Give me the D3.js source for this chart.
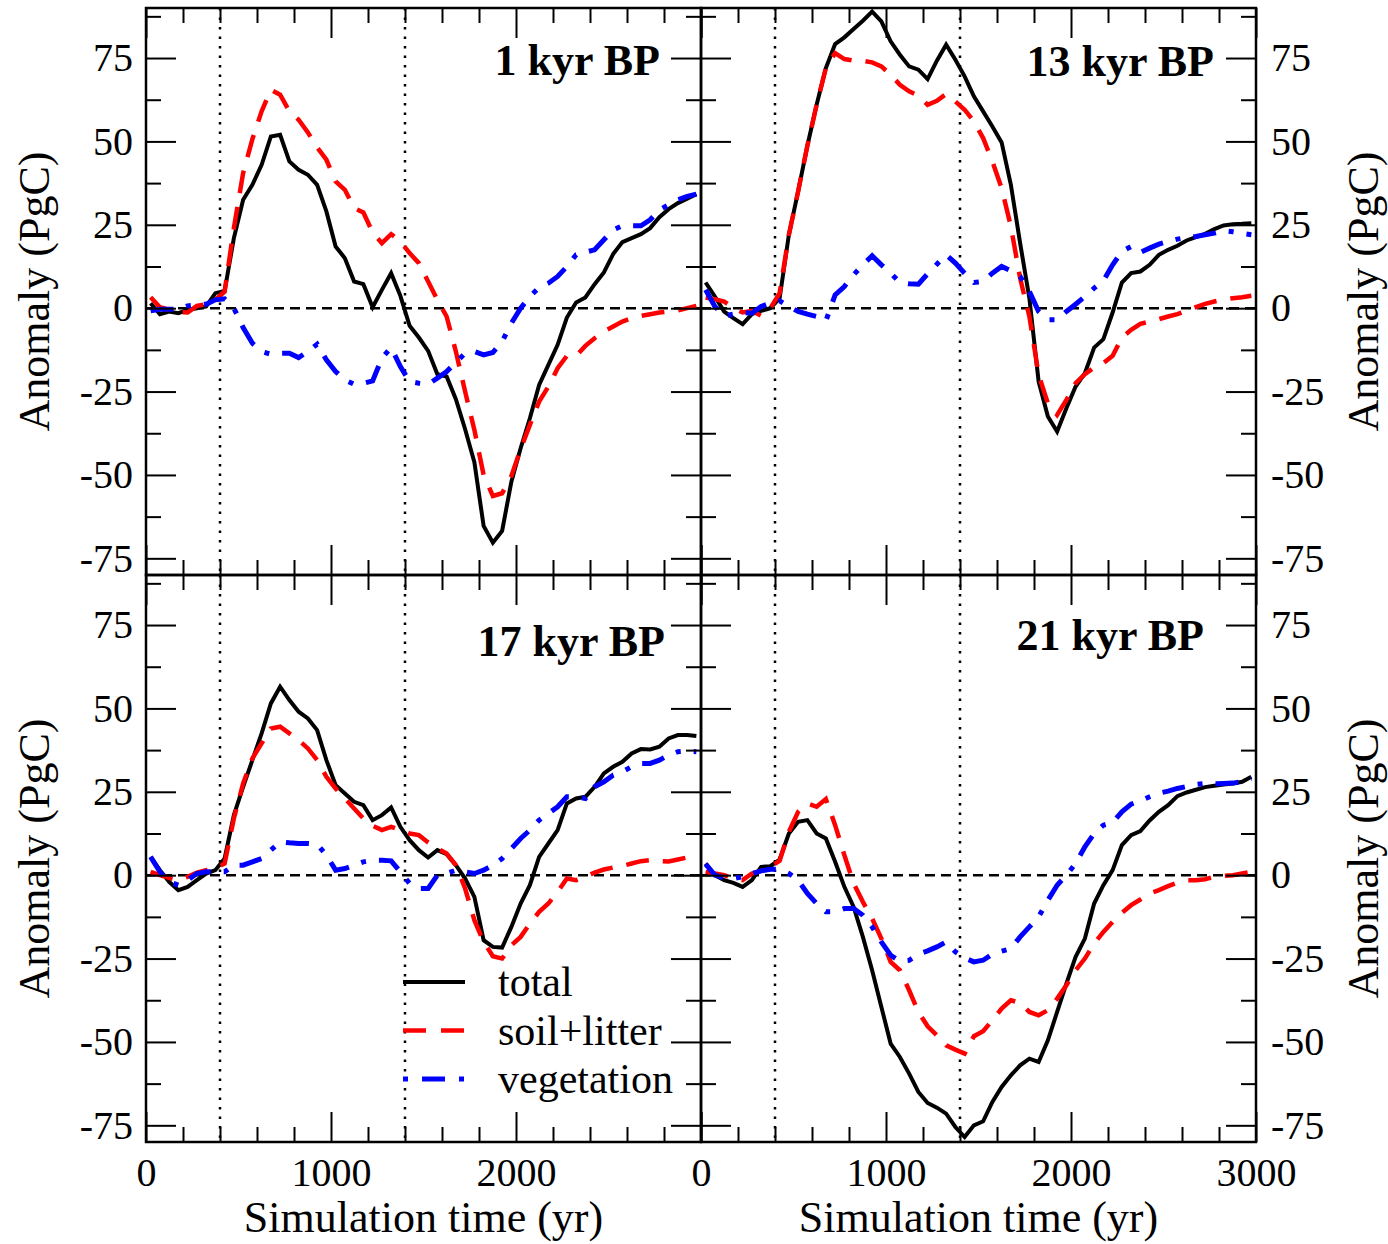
<!DOCTYPE html>
<html>
<head>
<meta charset="utf-8">
<script src="https://cdn.jsdelivr.net/npm/d3@7"></script>
<style>
  body { margin: 0; background: #fff; }
  svg { display: block; }
</style>
</head>
<body>
<svg id="chart" width="1388" height="1244"></svg>
<script>
// sample times (yr), one value every 50 yr
const years = [25, 75, 125, 175, 225, 275, 325, 375, 425, 475,
  525, 575, 625, 675, 725, 775, 825, 875, 925, 975,
  1025, 1075, 1125, 1175, 1225, 1275, 1325, 1375, 1425, 1475,
  1525, 1575, 1625, 1675, 1725, 1775, 1825, 1875, 1925, 1975,
  2025, 2075, 2125, 2175, 2225, 2275, 2325, 2375, 2425, 2475,
  2525, 2575, 2625, 2675, 2725, 2775, 2825, 2875, 2925, 2975]

// 1 kyr BP
const tot01 = [1.5, -1.8, -1, -1.5, -0.5, 0, 0.5, 4.5, 5.2, 21,
  32.5, 37, 43, 51.5, 52, 44, 41.5, 40, 37, 29,
  18.5, 15, 8, 7.2, 0.3, 5.5, 10.5, 3.7, -5.3, -8.8,
  -12.8, -19.8, -20.5, -27.3, -36.3, -46.2, -65.3, -70.3, -66.8, -52,
  -42, -33, -23, -17, -11, -2.8, 1.7, 3.2, 7.2, 10.7,
  16.2, 19.8, 21, 22.2, 24, 27.3, 29.7, 31.5, 32.8, 34.2]
const soil01 = [3.3, 0.3, -0.5, -1.2, -1.3, 0.7, 1.2, 2.5, 5, 24,
  40.5, 50.7, 59, 65.5, 64, 59, 56.5, 52.7, 48.2, 44.5,
  38, 35.5, 30, 28.7, 22.7, 19.5, 22.2, 20, 16.5, 13.5,
  8, 2.5, -2.5, -13, -25, -36.5, -50, -56.3, -55.5, -50.3,
  -42.3, -35, -28, -23.5, -18, -14.3, -14.3, -11.3, -9, -7,
  -5.5, -4, -3, -2.3, -1.8, -1.3, -1, -0.7, 0, 0.7]
const veg01 = [-0.8, -0.3, -0.3, -0.3, 0.7, 1, 1.2, 2.5, 2.8, 0,
  -5.8, -10.5, -13, -13.8, -13.5, -13.5, -14.8, -13, -10.8, -15.5,
  -19, -21.5, -22.8, -22.5, -21.8, -15, -11.8, -17.5, -22, -22.5,
  -22.8, -21, -19, -16.3, -13.5, -13, -14, -13.3, -10, -4.5,
  0, 3.5, 6.2, 7.5, 9.5, 12.5, 16, 16.8, 17.5, 20.5,
  23.5, 24.7, 24.7, 24.7, 26.5, 29.5, 31, 32.5, 33.5, 34.2]

// 13 kyr BP
const tot13 = [7.7, 3.5, -1, -3, -4.8, -1.8, -0.8, 0, 3, 22,
  35, 48.7, 61, 72, 79.2, 81.2, 83.7, 86.2, 88.9, 86,
  80, 76, 72.5, 71.5, 68.7, 74.2, 79, 74.5, 69.5, 63.5,
  59, 54.5, 49.7, 37, 19.5, 3, -22, -32.5, -37, -30,
  -23.5, -19.5, -11.8, -9.3, -1.3, 7.7, 10.5, 11, 13, 16,
  17.5, 18.7, 20.3, 21.3, 22.3, 23.7, 24.8, 25.2, 25.3, 25.5]
const soil13 = [3.2, 2.7, 2, 0, -1.3, -0.8, -2.3, 0, 4.5, 22,
  35, 48.7, 61, 72, 76.5, 74.7, 74.2, 74.2, 73.7, 72.5,
  70, 67, 65, 63.7, 61, 62.2, 64.2, 62, 59.5, 56,
  51, 44, 36, 24.5, 9, -2.5, -20, -28.5, -32, -27.5,
  -22.5, -19.8, -17.8, -16.5, -14.3, -8.8, -6.5, -4.7, -4, -3.3,
  -2.5, -1.8, -0.8, 0.3, 1.3, 2, 2.6, 3, 3.3, 3.7]
const veg13 = [5.5, 0.5, -2.3, -1.8, -1.3, -1.5, 0.5, 1.5, 2.2, 0.5,
  -1, -1.8, -2.5, -3.8, 4, 6.5, 10, 13, 15.7, 13,
  10.5, 7.7, 7.3, 7.2, 10.3, 13.2, 16, 13.5, 10.5, 7.7,
  8, 10.5, 12.5, 11.2, 9.5, 5, -1, -3.5, -3.5, -1,
  1.2, 3.5, 6, 8.2, 13, 17, 18.5, 16.7, 18, 19.2,
  20, 20.7, 21.2, 21.5, 22, 22.5, 23.2, 22.9, 22.4, 22]

// 17 kyr BP
const tot17 = [5.5, 1.5, -2, -4.5, -3.5, -1.5, 0.5, 1.5, 5, 18,
  26.5, 34.5, 42.5, 51.5, 56.5, 52.5, 49, 47, 43.5, 34.5,
  27, 24.5, 22, 21, 16.5, 18, 20.3, 14.5, 10.5, 7.5,
  5.3, 7.5, 6.3, 3, -1, -6.5, -19.5, -21.5, -21.7, -15.5,
  -8.5, -3, 5.5, 9.5, 13.5, 21.5, 23, 23.5, 26.5, 30.5,
  32.5, 34, 36.5, 37.8, 37.7, 38.5, 41, 42, 42, 41.7]
const soil17 = [1, 0, -0.8, -1.5, -0.5, 0.8, 1.5, 2, 3.5, 17,
  27.5, 35, 39.5, 44, 44.5, 42.5, 40.5, 38, 34.5, 29.5,
  26, 23, 20, 17, 14.8, 13.5, 14.5, 13.5, 12.5, 12,
  9.8, 8, 6.5, 3, -4, -13.5, -20, -24.3, -25, -21,
  -18.5, -14.5, -11, -8.5, -5, -1, -1.5, -0.5, 0.8, 1.7,
  2.3, 2.8, 3.5, 4.2, 4.5, 4.2, 4.1, 4.7, 5.3, 6]
const veg17 = [5.5, 1, -2, -3, -1.5, 0.5, 1, 1, 1, 3,
  3, 4, 5, 7.5, 10, 9.7, 9.5, 9.5, 9.3, 6,
  1.5, 2, 3, 4, 4.5, 4.5, 4.3, 1, -2.5, -4,
  -4, 0, 0.5, 1.5, 1, 0.5, 1.5, 3, 5, 8,
  11, 13.5, 16.5, 18.5, 20.5, 23.5, 23.5, 23, 26.5, 28,
  30, 31, 32.5, 33.5, 33.5, 34.5, 36, 37, 37.2, 37]

// 21 kyr BP
const tot21 = [3.5, 0, -1.5, -2.3, -3.5, -1.5, 2.5, 2.7, 4.7, 12.5,
  16, 16.5, 12.5, 11, 4, -3.5, -9.5, -18.5, -28.5, -39.5,
  -50.5, -54.5, -59.5, -65, -68.3, -69.7, -71.5, -75.5, -78.5, -75,
  -73.8, -68, -63.5, -60, -57, -55, -56, -49.5, -41, -32.5,
  -24.5, -19, -8.5, -3, 1.5, 9, 12, 13.2, 16.4, 19,
  21, 23.7, 24.8, 25.6, 26.4, 26.8, 27.2, 27.5, 28, 29.5]
const soil21 = [1, 0.5, 0, -1, -1.5, 0.5, 1.3, 2.5, 4.3, 13,
  19, 21.5, 20.5, 22.8, 15, 6, -2.5, -8, -13, -19,
  -26, -28.5, -34.5, -41, -45.3, -48, -51, -52.3, -53.5, -48.3,
  -46.8, -43.5, -40, -37.5, -38.3, -41, -42, -40.5, -37, -33,
  -28.5, -25, -20.5, -17, -14, -11.3, -9, -7.3, -5.5, -4.5,
  -3.3, -2.2, -1.5, -1.5, -1.2, -0.5, -0.2, 0, 0.5, 1]
const veg21 = [3.3, 0, -0.8, -1, -0.5, 0.5, 1.3, 1.8, 1.8, 0.5,
  -1.5, -5.5, -8.5, -11, -11, -10, -10, -12, -15.5, -20,
  -24, -25.8, -25.5, -23.7, -22.7, -21.5, -20, -23, -24.8, -26,
  -25.5, -23.7, -22.8, -22, -18.5, -15.5, -12.5, -7.5, -3, 0,
  3.5, 8.5, 12.5, 15, 15.8, 19, 21.3, 22.3, 23.5, 24.6,
  25.2, 26, 26.6, 27.2, 27.5, 27.4, 27.5, 27.6, 28, 29]

const titles = ['1 kyr BP', '13 kyr BP', '17 kyr BP', '21 kyr BP']
const seriesNames = ['total', 'soil+litter', 'vegetation']
const markerYears = [400, 1400]
const xMajor = [0, 1000, 2000, 3000]
const xMinor = [200, 400, 600, 800, 1200, 1400, 1600, 1800, 2200, 2400, 2600, 2800]
const yMajor = [-75, -50, -25, 0, 25, 50, 75]
const yMinor = [-62.5, -37.5, -12.5, 12.5, 37.5, 62.5, 87.5]
const xTitle = 'Simulation time (yr)'
const yTitle = 'Anomaly (PgC)'

const font = '"Liberation Serif", "Times New Roman", serif'
const styles = [
  { color: '#000000', width: 4, dash: null, legendDash: null },
  { color: '#ff0000', width: 4.5, dash: '23,14', legendDash: '23,15' },
  { color: '#0000ff', width: 5, dash: '23,13,5,13', legendDash: '5,14,23,14' }
]

const colX = [146, 701]
const rowY = [8, 575]
const W = 555
const H = 567

const panels = [
  { title: titles[0], data: [tot01, soil01, veg01], col: 0, row: 0, tx: 514, ty: 67 },
  { title: titles[1], data: [tot13, soil13, veg13], col: 1, row: 0, tx: 513, ty: 68 },
  { title: titles[2], data: [tot17, soil17, veg17], col: 0, row: 1, tx: 519, ty: 81 },
  { title: titles[3], data: [tot21, soil21, veg21], col: 1, row: 1, tx: 503, ty: 75 }
]

const svg = d3.select('#chart')
svg.append('rect').attr('width', 1388).attr('height', 1244).attr('fill', '#fff')

const x = d3.scaleLinear().domain([0, 3000]).range([0, W])
const y = d3.scaleLinear().domain([-80, 90]).range([H, 0])

function styleAxis (g, size) {
  g.select('.domain').remove()
  g.attr('font-family', font).attr('font-size', size)
  g.selectAll('line').attr('stroke', '#000').attr('stroke-width', 2)
  g.selectAll('text').attr('fill', '#000')
}

panels.forEach((p, i) => {
  const g = svg.append('g').attr('transform', `translate(${colX[p.col]},${rowY[p.row]})`)

  g.append('clipPath').attr('id', 'clip' + i)
    .append('rect').attr('width', W).attr('height', H)

  // reference lines
  g.append('line')
    .attr('x1', 0).attr('x2', W).attr('y1', y(0)).attr('y2', y(0))
    .attr('stroke', '#000').attr('stroke-width', 2.5).attr('stroke-dasharray', '10,6')
  g.selectAll('.marker').data(markerYears).enter()
    .append('line')
      .attr('class', 'marker')
      .attr('x1', d => x(d)).attr('x2', d => x(d))
      .attr('y1', 0).attr('y2', H)
      .attr('stroke', '#000').attr('stroke-width', 2.5).attr('stroke-dasharray', '2.5,7')

  // series
  const line = d3.line().x((d, k) => x(years[k])).y(d => y(d))
  p.data.forEach((vals, s) => {
    g.append('path')
      .datum(vals)
      .attr('clip-path', `url(#clip${i})`)
      .attr('d', line)
      .attr('fill', 'none')
      .attr('stroke', styles[s].color)
      .attr('stroke-width', styles[s].width)
      .attr('stroke-dasharray', styles[s].dash)
      .attr('stroke-linejoin', 'miter')
  })

  // ticks on all four sides, pointing inward
  const leftLabels = p.col === 0
  const rightLabels = p.col === 1
  const bottomLabels = p.row === 1

  g.append('g')
    .call(d3.axisLeft(y).tickValues(yMajor).tickSizeInner(-30).tickSizeOuter(0).tickPadding(13)
      .tickFormat(d => leftLabels ? String(d) : ''))
    .call(a => styleAxis(a, 40))
  g.append('g')
    .call(d3.axisLeft(y).tickValues(yMinor).tickSizeInner(-15).tickSizeOuter(0).tickFormat(''))
    .call(a => styleAxis(a, 40))
  g.append('g').attr('transform', `translate(${W},0)`)
    .call(d3.axisRight(y).tickValues(yMajor).tickSizeInner(-30).tickSizeOuter(0).tickPadding(15)
      .tickFormat(d => rightLabels ? String(d) : ''))
    .call(a => styleAxis(a, 40))
  g.append('g').attr('transform', `translate(${W},0)`)
    .call(d3.axisRight(y).tickValues(yMinor).tickSizeInner(-15).tickSizeOuter(0).tickFormat(''))
    .call(a => styleAxis(a, 40))

  g.append('g').attr('transform', `translate(0,${H})`)
    .call(d3.axisBottom(x).tickValues(xMajor).tickSizeInner(-30).tickSizeOuter(0).tickPadding(16)
      .tickFormat(d => bottomLabels && (p.col === 1 || d < 3000) ? String(d) : ''))
    .call(a => styleAxis(a, 40))
  g.append('g').attr('transform', `translate(0,${H})`)
    .call(d3.axisBottom(x).tickValues(xMinor).tickSizeInner(-15).tickSizeOuter(0).tickFormat(''))
    .call(a => styleAxis(a, 40))
  g.append('g')
    .call(d3.axisTop(x).tickValues(xMajor).tickSizeInner(-30).tickSizeOuter(0).tickFormat(''))
    .call(a => styleAxis(a, 40))
  g.append('g')
    .call(d3.axisTop(x).tickValues(xMinor).tickSizeInner(-15).tickSizeOuter(0).tickFormat(''))
    .call(a => styleAxis(a, 40))

  // frame
  g.append('rect')
    .attr('width', W).attr('height', H)
    .attr('fill', 'none').attr('stroke', '#000').attr('stroke-width', 2.5)

  // panel title
  g.append('text')
    .attr('x', p.tx).attr('y', p.ty)
    .attr('text-anchor', 'end')
    .attr('font-family', font).attr('font-size', 44).attr('font-weight', 'bold')
    .text(p.title)

  // axis titles
  if (p.row === 1) {
    g.append('text')
      .attr('x', W / 2).attr('y', 1232 - rowY[1])
      .attr('text-anchor', 'middle')
      .attr('font-family', font).attr('font-size', 44)
      .text(xTitle)
  }
  const txAbs = p.col === 0 ? 49 - colX[0] : 1378 - colX[1]
  g.append('text')
    .attr('transform', `translate(${txAbs},${H / 2}) rotate(-90)`)
    .attr('text-anchor', 'middle')
    .attr('font-family', font).attr('font-size', 44)
    .text(yTitle)

  // legend sits in the 17 kyr panel
  if (p.col === 0 && p.row === 1) {
    const lg = g.append('g').attr('transform', 'translate(257,407)')
    seriesNames.forEach((name, s) => {
      const row = lg.append('g').attr('transform', `translate(0,${s * 48.5})`)
      row.append('line')
        .attr('x1', 0).attr('x2', 62).attr('y1', 0).attr('y2', 0)
        .attr('stroke', styles[s].color)
        .attr('stroke-width', styles[s].width)
        .attr('stroke-dasharray', styles[s].legendDash)
      row.append('text')
        .attr('x', 95).attr('y', 14)
        .attr('font-family', font).attr('font-size', 42)
        .text(name)
    })
  }
})
</script>
</body>
</html>
